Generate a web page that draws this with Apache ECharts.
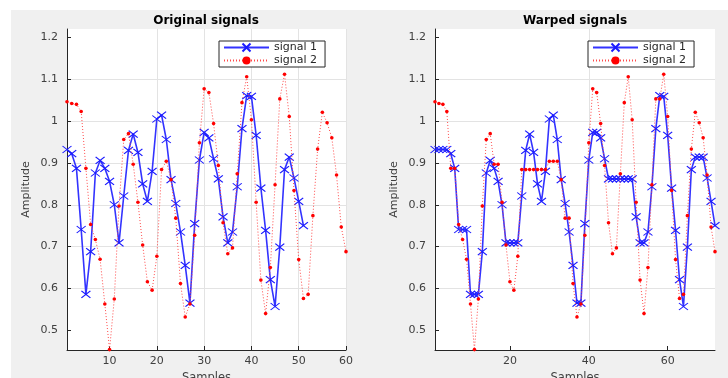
<!DOCTYPE html>
<html><head><meta charset="utf-8">
<script src="https://cdn.jsdelivr.net/npm/echarts@6/dist/echarts.min.js"></script>
<style>
html,body{margin:0;padding:0;background:#fff;}
#bg{position:absolute;left:11px;top:10px;width:717px;height:368px;background:#f0f0f0;}
#c{position:absolute;left:0;top:0;width:728px;height:378px;}
</style>
</head><body><div id="bg"></div><div id="c"></div>
<script>
// Original signals (sample index starts at 1)
const signal1 = [0.932,0.922,0.887,0.741,0.586,0.688,0.876,0.906,0.887,0.856,
  0.800,0.709,0.821,0.930,0.969,0.925,0.850,0.808,0.880,1.005,
  1.014,0.956,0.860,0.803,0.735,0.655,0.565,0.755,0.907,0.973,
  0.960,0.910,0.862,0.771,0.709,0.735,0.843,0.982,1.061,1.059,
  0.966,0.840,0.739,0.621,0.557,0.699,0.884,0.914,0.864,0.808,0.750];
const signal2 = [1.046,1.042,1.040,1.023,0.887,0.753,0.717,0.670,0.563,0.454,
  0.575,0.797,0.956,0.970,0.897,0.806,0.704,0.616,0.596,0.677,
  0.884,0.904,0.860,0.768,0.612,0.532,0.563,0.727,0.948,1.077,
  1.068,0.994,0.894,0.757,0.683,0.697,0.874,1.044,1.106,1.003,
  0.806,0.620,0.540,0.650,0.848,1.053,1.112,1.011,0.834,0.669,
  0.576,0.586,0.774,0.933,1.021,0.996,0.960,0.871,0.747,0.688];
// Warping path (1-based indices into signal1 / signal2)
const warpPath1 = [1,1,1,1,2,3,4,4,4,5,5,5,6,7,8,9,10,11,12,12,12,12,
  13,14,15,16,17,18,19,20,21,22,23,24,25,26,27,27,28,29,30,30,31,32,
  33,33,33,33,33,33,33,34,35,35,36,37,38,39,40,41,42,43,44,45,46,47,48,48,48,49,50,51];
const warpPath2 = [1,2,3,4,5,5,6,7,8,9,10,11,12,13,14,15,15,16,17,18,19,20,
  21,21,21,21,21,21,21,22,22,22,23,24,24,25,26,27,28,29,30,31,32,33,
  34,35,36,37,38,39,40,41,42,43,44,45,46,46,47,48,49,50,51,52,53,54,55,56,57,58,59,60];
const xTicksOriginal = [10,20,30,40,50,60];
const xTicksWarped = [20,40,60];
const yTicks = [0.5,0.6,0.7,0.8,0.9,1.0,1.1,1.2];
const seriesNames = ['signal 1','signal 2'];
const titles = ['Original signals','Warped signals'];

const FONT = 'DejaVu Sans';
const TXT = '#404040';
const xPath = 'path://M0,0L10,10M10,0L0,10';

const orig1 = signal1.map((v,i)=>[i+1,v]);
const orig2 = signal2.map((v,i)=>[i+1,v]);
const warp1 = warpPath1.map((k,i)=>[i+1,signal1[k-1]]);
const warp2 = warpPath2.map((k,i)=>[i+1,signal2[k-1]]);

const grids = [
  {left:67, top:29, width:279, height:321},
  {left:435, top:29, width:280, height:321}
];

function xAxis(idx, max, ticks){
  return {
    type:'value', gridIndex:idx, min:1, max:max, splitNumber: idx===0?5:4,
    name:'Samples', nameLocation:'middle', nameGap:16,
    nameTextStyle:{fontFamily:FONT, fontSize:11.5, color:TXT},
    axisLine:{show:true, onZero:false, lineStyle:{color:'#262626', width:1}},
    axisTick:{show:true, inside:true, length:4, lineStyle:{color:'#262626'}, customValues:ticks},
    axisLabel:{fontFamily:FONT, fontSize:11, color:TXT, margin:6, customValues:ticks},
    splitLine:{show:true, showMinLine:false, showMaxLine: idx===0, lineStyle:{color:'#e3e3e3', width:1}}
  };
}
function yAxis(idx){
  return {
    type:'value', gridIndex:idx, min:0.453, max:1.22, splitNumber:8,
    name:'Amplitude', nameLocation:'middle', nameGap:35,
    nameTextStyle:{fontFamily:FONT, fontSize:11, color:TXT},
    axisLine:{show:true, onZero:false, lineStyle:{color:'#262626', width:1}},
    axisTick:{show:true, inside:true, length:4, lineStyle:{color:'#262626'}, customValues:yTicks},
    axisLabel:{fontFamily:FONT, fontSize:11, color:TXT, margin:9, customValues:yTicks},
    splitLine:{show:true, showMinLine:false, showMaxLine:false, lineStyle:{color:'#e3e3e3', width:1}}
  };
}
function s1(idx, data){
  return {
    name:seriesNames[0], type:'line', xAxisIndex:idx, yAxisIndex:idx, data:data,
    symbol:xPath, symbolSize:[9,7], showAllSymbol:true,
    lineStyle:{color:'#3333ff', width:1.6},
    itemStyle:{color:'#1a1aff', borderColor:'#1a1aff', borderWidth:1.1},
    emphasis:{disabled:true}, z:2
  };
}
function s2(idx, data){
  return {
    name:seriesNames[1], type:'line', xAxisIndex:idx, yAxisIndex:idx, data:data,
    symbol:'circle', symbolSize:3.6, showAllSymbol:true,
    lineStyle:{color:'#ff4a4a', width:1, type:[1,2]},
    itemStyle:{color:'#ff0000', borderWidth:0},
    emphasis:{disabled:true}, z:3
  };
}
function legend(left){
  return {
    data:seriesNames, orient:'vertical', left:left, top:41,
    itemWidth:45, itemHeight:10, itemGap:2, itemTextGap:5,
    padding:[1,8,1,4], borderColor:'#262626', borderWidth:1, backgroundColor:'#ffffff',
    textStyle:{fontFamily:FONT, fontSize:11, color:'#262626'},
    selectedMode:false
  };
}

const chart = echarts.init(document.getElementById('c'), null, {renderer:'canvas'});
chart.setOption({
  animation:false,
  grid: grids.map(g=>Object.assign({show:true, backgroundColor:'#fff', borderWidth:0, containLabel:false, outerBoundsMode:'none'}, g)),
  xAxis:[xAxis(0,60,xTicksOriginal), xAxis(1,72,xTicksWarped)],
  yAxis:[yAxis(0), yAxis(1)],
  legend:[legend(219), legend(588)],
  graphic:[
    {type:'text', x:206, y:15, style:{text:titles[0], textAlign:'center', font:'bold 12px "DejaVu Sans"', fill:'#000'}},
    {type:'text', x:575, y:15, style:{text:titles[1], textAlign:'center', font:'bold 12px "DejaVu Sans"', fill:'#000'}}
  ],
  series:[s1(0,orig1), s2(0,orig2), s1(1,warp1), s2(1,warp2)]
});
</script>
</body></html>
